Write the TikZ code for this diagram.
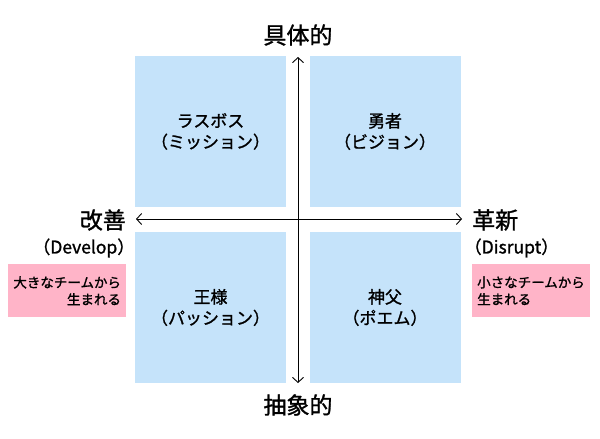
\documentclass[tikz,border=0pt]{standalone}
\usepackage{fontspec}
\setmainfont{Noto Sans CJK JP}
\newfontfamily\jp[FakeBold=1.2]{Noto Sans CJK JP}
\usetikzlibrary{arrows.meta}
\definecolor{qblue}{RGB}{197,227,250}
\definecolor{qpink}{RGB}{255,180,200}
\tikzset{
  quad/.style={fill=qblue,draw=none,minimum width=151pt,minimum height=151pt,inner sep=0pt,align=center,font=\jp\fontsize{17}{21}\selectfont},
  axislabel/.style={font=\jp\fontsize{23}{25}\selectfont,inner sep=0pt},
  sublabel/.style={font=\jp\fontsize{17.5}{19}\selectfont,inner sep=0pt},
  note/.style={fill=qpink,draw=none,minimum width=118pt,minimum height=53pt,inner sep=5pt,font=\jp\fontsize{13.5}{17}\selectfont},
  axis/.style={line width=0.9pt,{Straight Barb[length=5pt,width=11pt]}-{Straight Barb[length=5pt,width=11pt]}}
}
\begin{document}
\begin{tikzpicture}[x=1pt,y=-1pt]
\useasboundingbox (0,0) rectangle (600,439);
\fill[white] (0,0) rectangle (600,439);
\node[quad] (tl) at (210.5,131.5) {ラスボス\\（ミッション）};
\node[quad] (tr) at (385,131.5) {勇者\\（ビジョン）};
\node[quad] (bl) at (210.5,307.5) {王様\\（パッション）};
\node[quad] (br) at (385,307.5) {神父\\（ポエム）};
\coordinate (top) at (298,57);
\coordinate (bot) at (298,383);
\coordinate (lft) at (136,219);
\coordinate (rgt) at (462,219);
\draw[axis] (bot) -- (top);
\draw[axis] (lft) -- (rgt);
\node[axislabel] (concrete) at (298,35) {具体的};
\node[axislabel] (abstract) at (298,405) {抽象的};
\node[axislabel,anchor=east] (kaizen) at (126,220) {改善};
\node[sublabel,anchor=east] (develop) at (135,248) {（Develop）};
\node[axislabel,anchor=west] (kakushin) at (472,220) {革新};
\node[sublabel,anchor=west] (disrupt) at (464,248) {（Disrupt）};
\node[note,anchor=north west,align=right] (bignote) at (8,264) {大きなチームから\\生まれる};
\node[note,anchor=north west,align=left,minimum width=117pt] (smallnote) at (472,264) {小さなチームから\\生まれる};
\end{tikzpicture}
\end{document}
